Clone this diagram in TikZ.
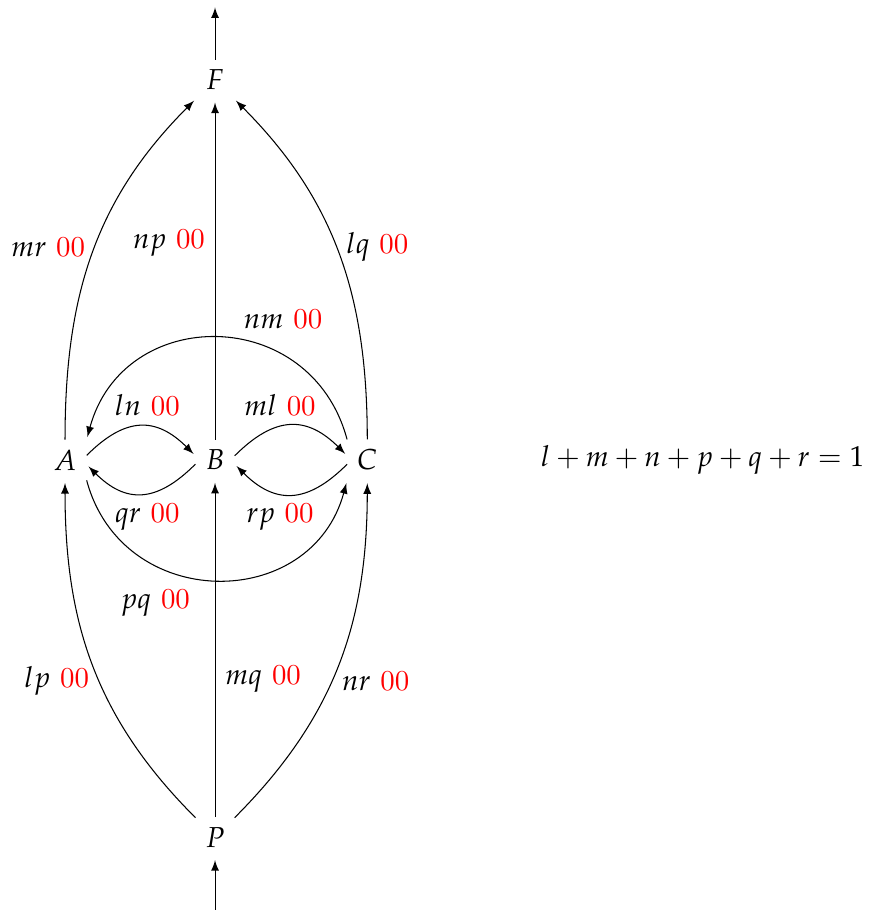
\documentclass[tikz,border=0pt,11pt]{standalone}
\usepackage{amsmath}
\usepackage{mathpazo}
\usepackage{tikz}

\begin{document}
\begin{tikzpicture}[>=latex,shorten >=1pt]
                        \useasboundingbox (-2.867,-6.0) rectangle (8.747,6.133);
                        % Nodes
                        \node (F) at (0,5.07) {$F$};
                        \node (A) at (-2,0) {$A$};
                        \node (B) at (0,0) {$B$};
                        \node (C) at (2.03,0) {$C$};
                        \node (P) at (0,-5.03) {$P$};
                        \coordinate (top) at (0,6.07);
                        \coordinate (bot) at (0,-6.0);
                        \node (eq) at (6.5,0) {$l+m+n+p+q+r=1$};

                        % Edges
                        \draw[->] (F) -- (top);
                        \draw[->] (bot) -- (P);

                        \draw[->] (A) to[out=90,in=-135] node[pos=0.52,left] {$mr$ \textcolor{red}{00}} (F);
                        \draw[->] (B) -- node[pos=0.58,left] {$np$ \textcolor{red}{00}} (F);
                        \draw[->] (C) to[out=90,in=-45] node[pos=0.52,right] {$lq$ \textcolor{red}{00}} (F);

                        \draw[->] (C.north west) to[out=105,in=75,looseness=1.38] node[pos=0.45,above right] {$nm$ \textcolor{red}{00}} (A.north east);
                        \draw[->] (A.12) to[out=45,in=135,looseness=1.3] node[pos=0.56,above] {$ln$ \textcolor{red}{00}} (B.168);
                        \draw[->] (B.12) to[out=45,in=135,looseness=1.3] node[pos=0.4,above] {$ml$ \textcolor{red}{00}} (C.168);
                        \draw[->] (B.192) to[out=-135,in=-45,looseness=1.3] node[pos=0.44,below] {$qr$ \textcolor{red}{00}} (A.-12);
                        \draw[->] (C.192) to[out=-135,in=-45,looseness=1.3] node[pos=0.6,below] {$rp$ \textcolor{red}{00}} (B.-12);
                        \draw[->] (A.south east) to[out=-75,in=-105,looseness=1.35] node[pos=0.45,below left] {$pq$ \textcolor{red}{00}} (C.south west);

                        \draw[->] (P) to[out=135,in=-90] node[pos=0.45,left] {$lp$ \textcolor{red}{00}} (A);
                        \draw[->] (P) -- node[pos=0.41,right] {$mq$ \textcolor{red}{00}} (B);
                        \draw[->] (P) to[out=45,in=-90] node[pos=0.45,right] {$nr$ \textcolor{red}{00}} (C);
                    \end{tikzpicture}
\end{document}
